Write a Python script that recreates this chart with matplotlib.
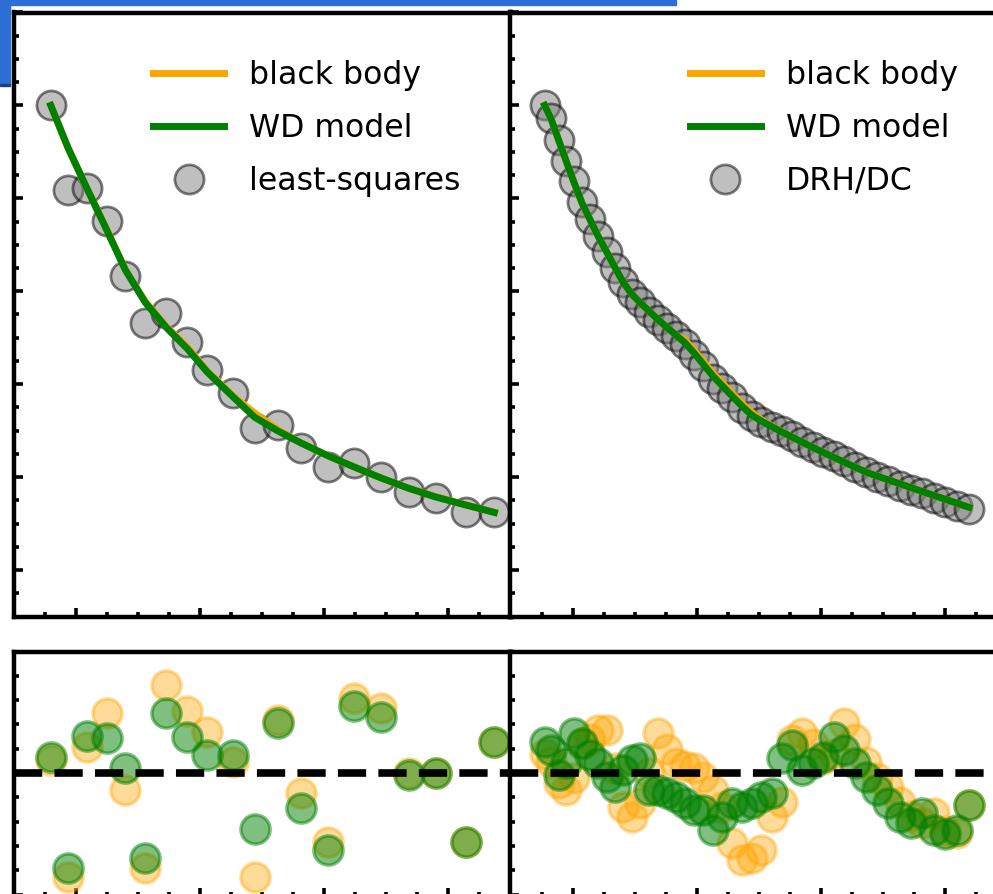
import matplotlib
matplotlib.use("Agg")
import matplotlib.pyplot as plt
from matplotlib.lines import Line2D
from matplotlib.patches import Rectangle
from matplotlib.ticker import MultipleLocator

plt.rcParams['font.family'] = ['DejaVu Sans']

# ---------------- data ----------------
# left panels: least-squares
x_ls = [0.80, 0.94, 1.09, 1.25, 1.40, 1.56, 1.73, 1.90, 2.06, 2.27,
        2.44, 2.63, 2.81, 3.03, 3.24, 3.46, 3.68, 3.90, 4.14, 4.37]
flux_ls = [6.00, 5.09, 5.11, 4.76, 4.16, 3.66, 3.77, 3.45, 3.15, 2.90,
           2.53, 2.56, 2.31, 2.11, 2.15, 2.00, 1.84, 1.77, 1.62, 1.62]
wd_ls = [6.00, 5.54, 5.11, 4.66, 4.23, 3.88, 3.61, 3.38, 3.13, 2.86,
         2.645, 2.495, 2.37, 2.23, 2.11, 1.99, 1.88, 1.785, 1.70, 1.62]
bb_ls = [6.00, 5.54, 5.11, 4.67, 4.23, 3.89, 3.62, 3.40, 3.14, 2.87,
         2.69, 2.51, 2.37, 2.23, 2.11, 1.99, 1.88, 1.79, 1.70, 1.62]
res_bb_ls = [0.054, -0.429, 0.107, 0.247, -0.070, -0.392, 0.363, 0.256, 0.169, 0.045,
             -0.429, 0.218, -0.082, -0.284, 0.309, 0.268, 0.0, 0.0, -0.284, 0.128]
res_wd_ls = [0.066, -0.392, 0.153, 0.144, 0.021, -0.350, 0.247, 0.148, 0.074, 0.074,
             -0.231, 0.206, -0.144, -0.317, 0.276, 0.231, -0.008, 0.0, -0.284, 0.128]

# right panels: DRH/DC
x_dc = [0.775, 0.827, 0.888, 0.950, 1.013, 1.077, 1.141, 1.206, 1.273, 1.340,
        1.407, 1.476, 1.545, 1.615, 1.686, 1.758, 1.831, 1.904, 1.978, 2.053,
        2.129, 2.206, 2.283, 2.361, 2.440, 2.520, 2.601, 2.682, 2.765, 2.848,
        2.931, 3.016, 3.102, 3.188, 3.275, 3.363, 3.452, 3.541, 3.631, 3.723,
        3.815, 3.907, 4.001, 4.095, 4.190]
wd_dc = [6.00, 5.854, 5.624, 5.394, 5.165, 4.945, 4.768, 4.590, 4.425, 4.258,
         4.097, 3.968, 3.875, 3.786, 3.697, 3.612, 3.529, 3.446, 3.335, 3.213,
         3.088, 2.981, 2.873, 2.767, 2.669, 2.602, 2.545, 2.487, 2.431, 2.376,
         2.320, 2.266, 2.213, 2.160, 2.106, 2.053, 2.010, 1.970, 1.929, 1.887,
         1.845, 1.803, 1.761, 1.718, 1.675]
bb_dc = [6.00, 5.854, 5.624, 5.394, 5.165, 4.945, 4.768, 4.590, 4.425, 4.258,
         4.097, 3.968, 3.875, 3.786, 3.697, 3.612, 3.529, 3.476, 3.365, 3.243,
         3.118, 3.011, 2.903, 2.797, 2.699, 2.615, 2.550, 2.490, 2.431, 2.376,
         2.320, 2.266, 2.213, 2.160, 2.106, 2.053, 2.010, 1.970, 1.929, 1.887,
         1.845, 1.803, 1.761, 1.718, 1.675]
flux_dc = [6.00, 5.866, 5.623, 5.399, 5.186, 4.960, 4.777, 4.595, 4.423, 4.251,
           4.099, 3.975, 3.883, 3.777, 3.688, 3.601, 3.517, 3.430, 3.316, 3.194,
           3.058, 2.958, 2.857, 2.749, 2.653, 2.590, 2.534, 2.495, 2.446, 2.378,
           2.325, 2.275, 2.232, 2.172, 2.111, 2.051, 2.001, 1.954, 1.906, 1.861,
           1.824, 1.773, 1.730, 1.688, 1.658]
res_wd_dc = [0.129, 0.095, -0.008, 0.040, 0.164, 0.122, 0.074, 0.040, -0.015, -0.056,
             0.012, 0.054, 0.061, -0.070, -0.070, -0.084, -0.098, -0.125, -0.153, -0.153,
             -0.235, -0.180, -0.125, -0.139, -0.125, -0.098, -0.084, 0.061, 0.115, 0.012,
             0.040, 0.067, 0.150, 0.095, 0.040, -0.015, -0.070, -0.125, -0.180, -0.207,
             -0.166, -0.235, -0.249, -0.235, -0.132]
res_bb_dc = [0.079, 0.047, -0.040, -0.071, -0.020, 0.119, 0.138, 0.178, 0.178, 0.020,
             -0.138, -0.182, -0.123, 0.0, 0.166, 0.099, 0.040, 0.028, 0.020, -0.016,
             -0.071, -0.138, -0.289, -0.356, -0.348, -0.317, -0.182, -0.119, 0.135, 0.166,
             0.119, 0.059, 0.079, 0.206, 0.138, 0.047, -0.020, -0.059, -0.119, -0.178,
             -0.206, -0.166, -0.237, -0.245, -0.131]

# ---------------- figure ----------------
W, H = 993, 894
fig = plt.figure(figsize=(W / 100, H / 100), dpi=100)


def ax_at(x0, y0, x1, y1):
    return fig.add_axes([x0 / W, 1 - y1 / H, (x1 - x0) / W, (y1 - y0) / H])


ax_tl = ax_at(13.5, 12.5, 510.5, 616.5)
ax_tr = ax_at(510.5, 12.5, 1007.5, 616.5)
ax_bl = ax_at(13.5, 651.5, 510.5, 897)
ax_br = ax_at(510.5, 651.5, 1007.5, 897)

FS = 22.7
grey_kw = dict(ls='none', marker='o', ms=21, mfc='gray', mec='black', mew=2.0, alpha=0.5)
res_kw = dict(ls='none', marker='o', ms=21, mew=2.5)

for ax, x, f, bb, wd, lab in [(ax_tl, x_ls, flux_ls, bb_ls, wd_ls, 'least-squares'),
                              (ax_tr, x_dc, flux_dc, bb_dc, wd_dc, 'DRH/DC')]:
    ax.plot(x, f, **grey_kw)
    ax.plot(x, bb, color='orange', lw=5)
    ax.plot(x, wd, color='green', lw=5)
    ax.set_ylim(0.5, 7.0)
    ax.yaxis.set_major_locator(MultipleLocator(1))
    ax.yaxis.set_minor_locator(MultipleLocator(0.25))
    h_bb = Line2D([], [], color='orange', lw=5)
    h_wd = Line2D([], [], color='green', lw=5)
    h_pt = Line2D([], [], **grey_kw)
    ax.legend([h_bb, h_wd, h_pt], ['black body', 'WD model', lab],
              loc='upper right', bbox_to_anchor=(0.9, 0.922), borderaxespad=0,
              borderpad=0, frameon=False, fontsize=FS, handlelength=2.25,
              handletextpad=0.8, labelspacing=0.7, numpoints=1)

for ax, x, rb, rw in [(ax_bl, x_ls, res_bb_ls, res_wd_ls),
                      (ax_br, x_dc, res_bb_dc, res_wd_dc)]:
    ax.plot(x, rb, color='orange', alpha=0.4, **res_kw)
    ax.plot(x, rw, color='green', alpha=0.5, **res_kw)
    ax.axhline(0, color='black', ls='--', lw=5.5)
    ax.set_ylim(-0.51, 0.5)
    ax.yaxis.set_major_locator(MultipleLocator(0.5))
    ax.yaxis.set_minor_locator(MultipleLocator(0.1))

for ax in (ax_tl, ax_tr, ax_bl, ax_br):
    ax.set_xlim(0.5, 4.5)
    ax.xaxis.set_major_locator(MultipleLocator(1))
    ax.xaxis.set_minor_locator(MultipleLocator(0.25))
    for s in ax.spines.values():
        s.set_linewidth(3.2)
    ax.tick_params(which='both', direction='in', top=False, right=False,
                   labelbottom=False, labelleft=False, width=2.6)
    ax.tick_params(which='major', length=6.5)
    ax.tick_params(which='minor', length=3.8)

# screenshot artefact (blue window bar)
fig.patches.append(Rectangle((0, 1 - 5 / H), 676 / W, 5 / H, transform=fig.transFigure,
                             color='#2b6fd6', zorder=10))
fig.patches.append(Rectangle((0, 1 - 84 / H), 10 / W, 84 / H, transform=fig.transFigure,
                             color='#2b6fd6', zorder=10))
fig.patches.append(Rectangle((0, 1 - 86 / H), 10 / W, 2 / H, transform=fig.transFigure,
                             color='#1c3f86', zorder=10))

fig.savefig('out.png', dpi=100)
